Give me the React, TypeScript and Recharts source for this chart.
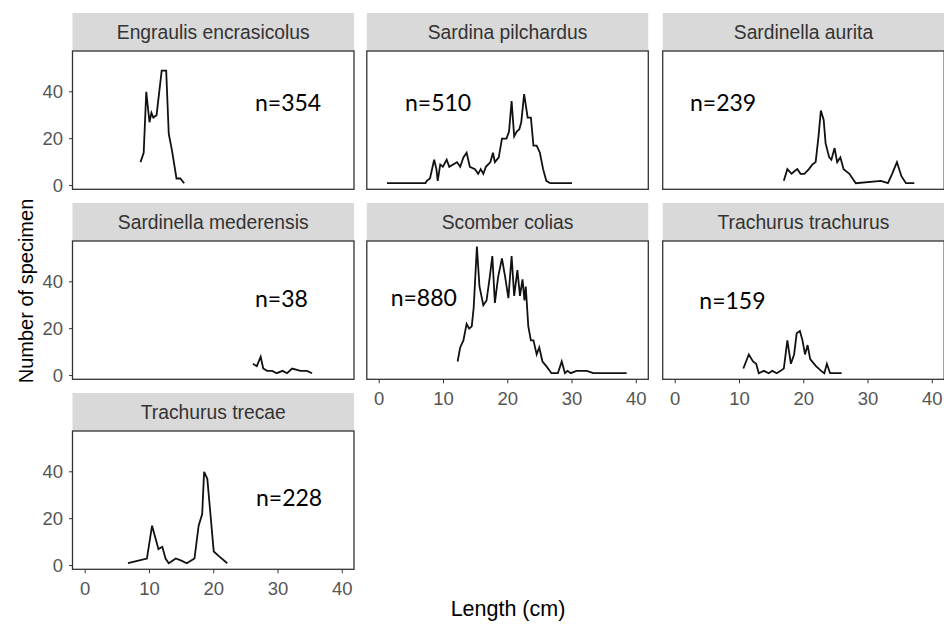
import { Line, LineChart, XAxis, YAxis } from "recharts";

// length (cm) / number of specimen
const engraulisLen = [8.6, 9.1, 9.5, 10.0, 10.3, 10.6, 11.1, 11.9, 12.6, 13.0, 13.5, 14.2, 14.8, 15.4];
const engraulisCount = [10, 14, 40, 27, 31, 29, 30, 49, 49, 22, 15, 3, 3, 1];

const sardinaLen = [
  1.2, 7.2, 7.4, 7.9, 8.55, 8.9, 9.1, 9.5, 9.9, 10.5, 10.9, 11.5, 12.1, 12.6, 13.1, 13.6, 14.1, 14.9, 15.4, 15.8,
  16.2, 16.6, 17.3, 17.7, 18.0, 18.6, 19.1, 19.8, 20.2, 20.6, 21.0, 21.4, 21.8, 22.1, 22.55, 23.1, 23.6, 24.0, 24.5,
  25.0, 25.5, 26.0, 26.6, 30.0,
];
const sardinaCount = [
  1, 1, 2, 3, 11, 7, 2, 9, 8, 11, 8, 9, 10, 8, 12, 14, 8, 7, 5, 7, 5, 8, 10, 14, 10, 12, 20, 20, 23, 36, 21, 23, 24,
  27, 39, 29, 29, 17, 17, 14, 7, 2, 1, 1,
];

const auritaLen = [
  16.9, 17.45, 18.1, 18.5, 19.0, 19.5, 20.1, 20.8, 21.35, 21.85, 22.3, 22.66, 23.1, 23.4, 23.96, 24.3, 24.8, 25.2,
  25.7, 26.2, 27.1, 28.1, 32.0, 33.1, 33.75, 34.5, 35.2, 35.9, 37.2,
];
const auritaCount = [2, 7, 5, 6, 7, 5, 5, 7, 9, 10, 21, 32, 28, 18, 12, 11, 16, 10, 12, 7, 5, 1, 2, 1, 5, 10, 4, 1, 1];

const mederensisLen = [26.1, 26.7, 27.3, 27.7, 28.3, 29.1, 29.8, 30.7, 31.4, 32.2, 33.5, 34.5, 35.3];
const mederensisCount = [5, 4, 8, 3, 2, 2, 1, 2, 1, 3, 2, 2, 1];

const scomberLen = [
  12.2, 12.6, 13.1, 13.6, 14.0, 14.4, 14.7, 15.2, 15.6, 16.2, 16.7, 17.2, 17.6, 18.0, 18.5, 19.1, 19.6, 20.1, 20.6,
  21.0, 21.5, 21.9, 22.3, 22.6, 22.8, 23.2, 23.6, 24.0, 24.5, 24.9, 25.4, 26.0, 26.8, 27.8, 28.4, 28.9, 29.3, 29.8,
  30.7, 32.3, 33.3, 38.5,
];
const scomberCount = [
  6, 12, 15, 22, 20, 21, 29, 55, 38, 30, 32, 42, 51, 31, 42, 50, 42, 33, 51, 34, 45, 34, 41, 32, 38, 21, 15, 15, 9, 12,
  6, 4, 1, 1, 6, 1, 2, 1, 2, 2, 1, 1,
];

const trachurusLen = [
  10.6, 11.45, 12.1, 12.6, 13.0, 13.8, 14.55, 15.1, 15.8, 16.4, 16.9, 17.45, 18.0, 18.5, 18.9, 19.4, 19.8, 20.2, 20.6,
  21.0, 21.9, 22.7, 23.2, 23.6, 24.1, 24.8, 25.3, 25.9,
];
const trachurusCount = [3, 9, 6, 5, 1, 2, 1, 2, 1, 2, 3, 15, 5, 9, 18, 19, 15, 9, 13, 7, 4, 2, 1, 5, 1, 1, 1, 1];

const trecaeLen = [6.65, 9.6, 10.4, 10.9, 11.4, 12.0, 12.5, 13.0, 14.1, 15.05, 15.8, 17.0, 17.65, 18.2, 18.5, 19.0, 20.0, 20.8, 22.1];
const trecaeCount = [1, 3, 17, 12, 7, 8, 3, 1, 3, 2, 1, 3, 17, 22, 40, 37, 6, 4, 1];

const X_TICKS = [0, 10, 20, 30, 40];
const Y_TICKS = [0, 20, 40];

// facet grid geometry (px)
const COL_X = [72.5, 366.8, 662.7];
const ROW_Y = [51, 241, 431];
const PANEL_W = 281.5;
const PANEL_H = 138.3;
const STRIP_H = 38;
const Y_AXIS_W = 44;
const X_AXIS_H = 40;

const TICK_FONT = "'Liberation Sans', Arial, sans-serif";
const tickStyle = { fill: "#555555", fontSize: 18.5, fontFamily: TICK_FONT };

const toRows = (len: number[], count: number[]) => len.map((x, i) => ({ x, y: count[i] }));

const panels = [
  { name: "Engraulis encrasicolus", n: "n=354", rows: toRows(engraulisLen, engraulisCount), col: 0, row: 0, nx: 255, ny: 110.7 },
  { name: "Sardina pilchardus", n: "n=510", rows: toRows(sardinaLen, sardinaCount), col: 1, row: 0, nx: 405, ny: 110.7 },
  { name: "Sardinella aurita", n: "n=239", rows: toRows(auritaLen, auritaCount), col: 2, row: 0, nx: 690, ny: 110.7 },
  { name: "Sardinella mederensis", n: "n=38", rows: toRows(mederensisLen, mederensisCount), col: 0, row: 1, nx: 255, ny: 307.3 },
  { name: "Scomber colias", n: "n=880", rows: toRows(scomberLen, scomberCount), col: 1, row: 1, nx: 390.7, ny: 306 },
  { name: "Trachurus trachurus", n: "n=159", rows: toRows(trachurusLen, trachurusCount), col: 2, row: 1, nx: 699.3, ny: 309.3 },
  { name: "Trachurus trecae", n: "n=228", rows: toRows(trecaeLen, trecaeCount), col: 0, row: 2, nx: 256, ny: 505.7 },
];

// which panels carry x labels (ggplot facet_wrap style: bottom panel of each column)
const showsX = (col: number, row: number) => (col === 0 ? row === 2 : row === 1);

function Panel({ p }: { p: (typeof panels)[number] }) {
  const showY = p.col === 0;
  const showX = showsX(p.col, p.row);
  const w = PANEL_W + (showY ? Y_AXIS_W : 0);
  // always reserve the x-axis band so the "0" y label is not clipped
  const h = PANEL_H + X_AXIS_H;
  return (
    <div style={{ position: "absolute", left: COL_X[p.col] - (showY ? Y_AXIS_W : 0), top: ROW_Y[p.row] }}>
      <LineChart width={w} height={h} data={p.rows} margin={{ top: 0, right: 0, bottom: 0, left: 0 }}>
        <XAxis
          type="number"
          dataKey="x"
          domain={[-1.9, 41.9]}
          ticks={X_TICKS}
          interval={0}
          allowDataOverflow
          height={X_AXIS_H}
          axisLine={false}
          tickSize={4}
          tickMargin={9}
          tickLine={showX ? { stroke: "#333333" } : false}
          tick={showX ? tickStyle : false}
        />
        <YAxis
          type="number"
          dataKey="y"
          domain={[-1.6, 57.4]}
          ticks={Y_TICKS}
          interval={0}
          allowDataOverflow
          hide={!showY}
          width={Y_AXIS_W}
          axisLine={false}
          tickSize={4}
          tickMargin={6}
          tickLine={{ stroke: "#333333" }}
          tick={tickStyle}
        />
        <Line
          type="linear"
          dataKey="y"
          stroke="#111111"
          strokeWidth={1.8}
          dot={false}
          isAnimationActive={false}
        />
      </LineChart>
    </div>
  );
}

export default function App() {
  return (
    <div style={{ position: "absolute", left: 0, top: 0, width: 944, height: 629, background: "#fff", overflow: "hidden" }}>
      {panels.map((p) => (
        <Panel key={p.name} p={p} />
      ))}
      <svg width={944} height={629} style={{ position: "absolute", left: 0, top: 0, pointerEvents: "none" }}>
        {panels.map((p) => {
          const x = COL_X[p.col];
          const y = ROW_Y[p.row];
          return (
            <g key={p.name}>
              <rect x={x} y={y - STRIP_H} width={PANEL_W} height={STRIP_H} fill="#d9d9d9" />
              <text
                x={x + PANEL_W / 2}
                y={y - STRIP_H / 2 + 7}
                textAnchor="middle"
                fontFamily={TICK_FONT}
                fontSize={19.3}
                fill="#333333"
              >
                {p.name}
              </text>
              <rect x={x} y={y} width={PANEL_W} height={PANEL_H} fill="none" stroke="#333333" strokeWidth={1.3} />
              <text x={p.nx} y={p.ny} fontFamily="Lato, 'Open Sans', sans-serif" fontSize={23} fill="#000">
                {p.n}
              </text>
            </g>
          );
        })}
        <text
          transform="translate(33, 291) rotate(-90)"
          textAnchor="middle"
          fontFamily={TICK_FONT}
          fontSize={20}
          fill="#000"
        >
          Number of specimen
        </text>
        <text x={508} y={616} textAnchor="middle" fontFamily={TICK_FONT} fontSize={21.5} fill="#000">
          Length (cm)
        </text>
      </svg>
    </div>
  );
}
